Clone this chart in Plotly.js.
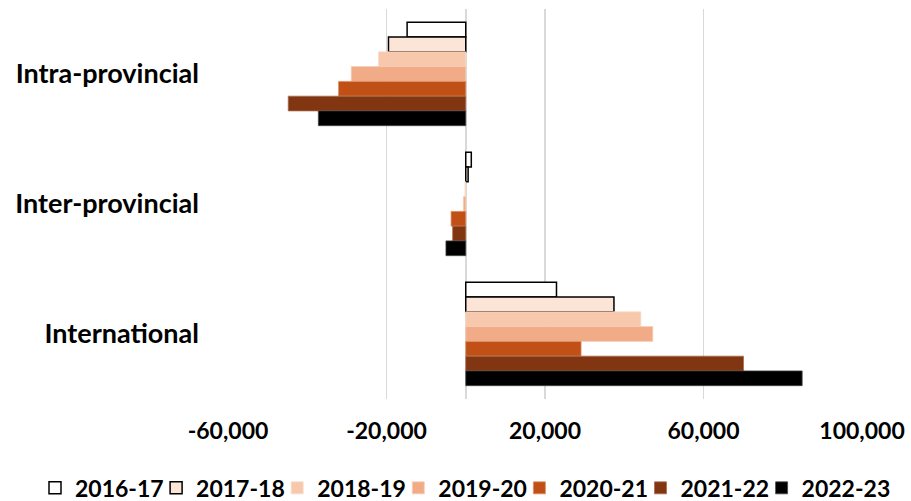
<!DOCTYPE html>
<html>
<head>
<meta charset="utf-8">
<script src="https://cdn.plot.ly/plotly-3.0.1.min.js"></script>
<style>
  html, body { margin: 0; padding: 0; background: #fff; }
  #chart { width: 911px; height: 501px; }
</style>
</head>
<body>
<div id="chart"></div>
<script>
// Net migration by type, per fiscal year
const categories = ['Intra-provincial', 'Inter-provincial', 'International'];
const years = ['2016-17', '2017-18', '2018-19', '2019-20', '2020-21', '2021-22', '2022-23'];

const v2016_17 = [-14800, 1400, 22900];
const v2017_18 = [-19500, 600, 37400];
const v2018_19 = [-22000, -200, 44200];
const v2019_20 = [-28900, -600, 47200];
const v2020_21 = [-32100, -3700, 29100];
const v2021_22 = [-44800, -3300, 70100];
const v2022_23 = [-37200, -5000, 84900];

const tickValues = [-60000, -20000, 20000, 60000, 100000];
const tickLabels = ['-60,000', '-20,000', '20,000', '60,000', '100,000'];

const seriesValues = [v2016_17, v2017_18, v2018_19, v2019_20, v2020_21, v2021_22, v2022_23];
const fills = ['#FFFFFF', '#FCE4D6', '#F7C8AB', '#F1AB86', '#C05016', '#813511', '#000000'];
const edges = ['#000000', '#000000', '#F9DCC9', '#F6CDB6', '#D88E67', '#A86C4E', '#444444'];
const edgeWidths = [1.5, 1.5, 0.75, 0.75, 0.75, 0.75, 0.75];

// plot area geometry (px)
const plotLeft = 228, plotWidth = 634;
// legend row: one legend box per year, laid out at a fixed pitch
const legendStart = 35, legendPitch = 121.1;
const legendId = i => (i === 0 ? 'legend' : 'legend' + (i + 1));

const traces = years.map((yr, i) => ({
  type: 'bar',
  orientation: 'h',
  name: yr,
  y: categories,
  x: seriesValues[i],
  legend: legendId(i),
  marker: { color: fills[i], line: { color: edges[i], width: edgeWidths[i] } },
  hoverinfo: 'x+name'
}));

const fontFamily = 'Lato, "Open Sans", sans-serif';
const baseFont = { family: fontFamily, size: 23, color: '#000', weight: 700 };
const categoryFont = { family: fontFamily, size: 27, color: '#000', weight: 700 };

const layout = {
  width: 911,
  height: 501,
  margin: { l: plotLeft, r: 911 - plotLeft - plotWidth, t: 9, b: 102, autoexpand: false },
  paper_bgcolor: '#fff',
  plot_bgcolor: '#fff',
  font: baseFont,
  barmode: 'group',
  bargap: 0.205,
  bargroupgap: 0,
  showlegend: true,
  xaxis: {
    range: [-60000, 100000],
    tickvals: tickValues,
    ticktext: tickLabels,
    showgrid: true,
    gridcolor: '#D9D9D9',
    gridwidth: 1.5,
    zeroline: true,
    zerolinecolor: '#D9D9D9',
    zerolinewidth: 1.5,
    showline: false,
    ticks: '',
    ticklabelstandoff: 16,
    tickfont: baseFont,
    fixedrange: true
  },
  yaxis: {
    autorange: 'reversed',
    showgrid: false,
    zeroline: false,
    showline: false,
    ticks: '',
    ticklabelstandoff: 28,
    tickfont: categoryFont,
    fixedrange: true
  }
};

years.forEach((yr, i) => {
  layout[legendId(i)] = {
    orientation: 'h',
    xref: 'paper',
    yref: 'paper',
    x: (legendStart + legendPitch * i - plotLeft) / plotWidth,
    xanchor: 'left',
    y: -0.228,
    yanchor: 'middle',
    font: baseFont,
    itemwidth: 30,
    bgcolor: 'rgba(0,0,0,0)'
  };
});

Plotly.newPlot('chart', traces, layout, { displayModeBar: false, staticPlot: true });
</script>
</body>
</html>
